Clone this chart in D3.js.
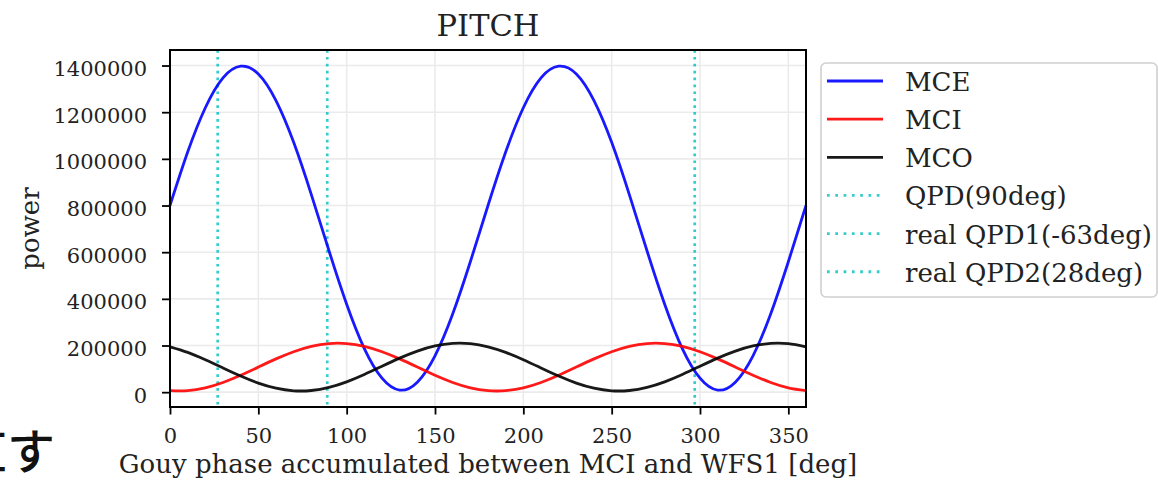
<!DOCTYPE html>
<html>
<head>
<meta charset="utf-8">
<script src="https://cdn.jsdelivr.net/npm/d3@7"></script>
<style>
  body { margin: 0; background: #fff; }
  svg { display: block; }
</style>
</head>
<body>
<svg id="chart"></svg>
<script>
// Gouy phase samples [deg]
const phase = [0, 10, 20, 30, 40, 50, 60, 70, 80, 90, 100, 110, 120, 130, 140, 150, 160, 170, 180,
  190, 200, 210, 220, 230, 240, 250, 260, 270, 280, 290, 300, 310, 320, 330, 340, 350, 360]

// power
const mce = [800000, 1029000, 1219000, 1347000, 1397000, 1364000, 1250000, 1071000, 847000, 606000,
  377000, 187000, 60000, 9000, 43000, 156000, 335000, 559000, 800000,
  1029000, 1219000, 1347000, 1397000, 1364000, 1250000, 1071000, 847000, 606000,
  377000, 187000, 60000, 9000, 43000, 156000, 335000, 559000, 800000]
const mci = [6600, 6600, 18700, 41600, 72400, 107500, 142600, 173400, 196300, 208400,
  208400, 196300, 173400, 142600, 107500, 72400, 41600, 18700, 6600,
  6600, 18700, 41600, 72400, 107500, 142600, 173400, 196300, 208400,
  208400, 196300, 173400, 142600, 107500, 72400, 41600, 18700, 6600]
const mco = [194400, 170600, 139200, 103900, 69100, 38900, 17000, 6000, 7200, 20600,
  44400, 75800, 111100, 145900, 176100, 198000, 209000, 207800, 194400,
  170600, 139200, 103900, 69100, 38900, 17000, 6000, 7200, 20600,
  44400, 75800, 111100, 145900, 176100, 198000, 209000, 207800, 194400]

const seriesNames = ['MCE', 'MCI', 'MCO']
const seriesColors = ['#0000ff', '#ff0000', '#000000']

// vertical QPD markers
const qpdNames = ['QPD(90deg)', 'real QPD1(-63deg)', 'real QPD2(28deg)']
const qpdPhase = [89, 297, 27]

const xTicks = [0, 50, 100, 150, 200, 250, 300, 350]
const yTicks = [0, 200000, 400000, 600000, 800000, 1000000, 1200000, 1400000]

const width = 1158, height = 482
const plot = { left: 170, right: 806, top: 50, bottom: 407 }
const serif = "'DejaVu Serif', serif"
const labelSize = '26px'

const svg = d3.select('#chart').attr('width', width).attr('height', height)

// ─── scales ───
const x = d3.scaleLinear().domain([0, 360]).range([plot.left, plot.right])
const all = mce.concat(mci, mco)
const lo = d3.min(all), hi = d3.max(all)
const pad = (hi - lo) * 0.05
const y = d3.scaleLinear().domain([lo - pad, hi + pad]).range([plot.bottom, plot.top])

// ─── grid ───
const grid = svg.append('g').attr('class', 'grid')
grid.selectAll('line.gx').data(xTicks).join('line')
  .attr('x1', d => x(d)).attr('x2', d => x(d))
  .attr('y1', plot.top).attr('y2', plot.bottom)
  .attr('stroke', '#ebebeb').attr('stroke-width', 1.6)
grid.selectAll('line.gy').data(yTicks).join('line')
  .attr('x1', plot.left).attr('x2', plot.right)
  .attr('y1', d => y(d)).attr('y2', d => y(d))
  .attr('stroke', '#ebebeb').attr('stroke-width', 1.6)

// ─── QPD lines ───
svg.append('g').selectAll('line').data(qpdPhase).join('line')
  .attr('x1', d => x(d)).attr('x2', d => x(d))
  .attr('y1', plot.top).attr('y2', plot.bottom)
  .attr('stroke', '#00bfbf').attr('stroke-opacity', 0.8)
  .attr('stroke-width', 2.7).attr('stroke-dasharray', '2.7,4.2')

// ─── curves ───
const line = d3.line().curve(d3.curveNatural)
const series = [mce, mci, mco]
svg.append('g').selectAll('path').data(series).join('path')
  .attr('d', vals => line(vals.map((v, i) => [x(phase[i]), y(v)])))
  .attr('fill', 'none')
  .attr('stroke', (d, i) => seriesColors[i])
  .attr('stroke-opacity', 0.9)
  .attr('stroke-width', 2.8)

// ─── axes ───
const xAxis = d3.axisBottom(x).tickValues(xTicks).tickSize(7.5).tickPadding(10)
svg.append('g')
  .attr('transform', `translate(0,${plot.bottom})`)
  .call(xAxis)
  .call(g => g.select('.domain').remove())
  .call(g => g.selectAll('.tick line').attr('stroke', '#000').attr('stroke-width', 1.8))
  .call(g => g.selectAll('.tick text')
    .attr('font-family', serif).attr('font-size', '21px').attr('fill', '#222')
    .attr('dy', null).attr('y', 36))

const yAxis = d3.axisLeft(y).tickValues(yTicks).tickSize(8).tickPadding(15).tickFormat(d3.format('d'))
svg.append('g')
  .attr('transform', `translate(${plot.left},0)`)
  .call(yAxis)
  .call(g => g.select('.domain').remove())
  .call(g => g.selectAll('.tick line').attr('stroke', '#000').attr('stroke-width', 1.8))
  .call(g => g.selectAll('.tick text')
    .attr('font-family', serif).attr('font-size', '21px').attr('fill', '#222')
    .attr('dy', null).attr('y', 10))

// frame
svg.append('rect')
  .attr('x', plot.left).attr('y', plot.top)
  .attr('width', plot.right - plot.left).attr('height', plot.bottom - plot.top)
  .attr('fill', 'none').attr('stroke', '#000').attr('stroke-width', 2)

// ─── titles ───
svg.append('text')
  .attr('x', (plot.left + plot.right) / 2).attr('y', 36)
  .attr('text-anchor', 'middle')
  .attr('font-family', serif).attr('font-size', '30.5px').attr('fill', '#222')
  .text('PITCH')

svg.append('text')
  .attr('x', (plot.left + plot.right) / 2).attr('y', 473)
  .attr('text-anchor', 'middle')
  .attr('font-family', serif).attr('font-size', labelSize).attr('fill', '#222')
  .text('Gouy phase accumulated between MCI and WFS1 [deg]')

svg.append('text')
  .attr('transform', `translate(39,${(plot.top + plot.bottom) / 2}) rotate(-90)`)
  .attr('text-anchor', 'middle')
  .attr('font-family', serif).attr('font-size', labelSize).attr('fill', '#222')
  .text('power')

// ─── legend ───
const legend = svg.append('g').attr('class', 'legend')
legend.append('rect')
  .attr('x', 821).attr('y', 63).attr('width', 336).attr('height', 234)
  .attr('rx', 5).attr('fill', '#fff').attr('stroke', '#cfcfcf').attr('stroke-width', 1.6)

const legendItems = seriesNames.map((n, i) => ({ name: n, color: seriesColors[i], dotted: false }))
  .concat(qpdNames.map(n => ({ name: n, color: '#00bfbf', dotted: true })))

legendItems.forEach((d, i) => {
  const cy = 81 + i * 38.15
  legend.append('line')
    .attr('x1', 827).attr('x2', 883).attr('y1', cy).attr('y2', cy)
    .attr('stroke', d.color).attr('stroke-opacity', d.dotted ? 0.8 : 0.9)
    .attr('stroke-width', 2.8)
    .attr('stroke-dasharray', d.dotted ? '2.7,5.6' : null)
  legend.append('text')
    .attr('x', 905).attr('y', cy + 10)
    .attr('font-family', serif).attr('font-size', labelSize).attr('fill', '#222')
    .text(d.name)
})

// clipped note at the lower left edge
svg.append('text')
  .attr('x', 55).attr('y', 469)
  .attr('text-anchor', 'end')
  .attr('font-family', "'Noto Sans CJK JP', sans-serif").attr('font-size', '48px')
  .attr('font-weight', 500).attr('fill', '#111')
  .text('直す')
</script>
</body>
</html>
